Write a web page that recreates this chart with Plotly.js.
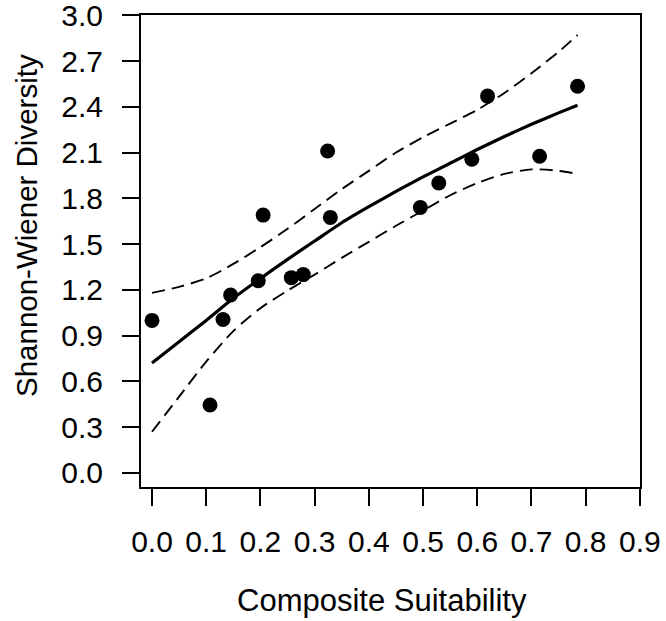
<!DOCTYPE html>
<html>
<head>
<meta charset="utf-8">
<script src="https://cdn.plot.ly/plotly-3.0.1.min.js"></script>
<style>html,body{margin:0;padding:0;background:#fff;}#chart{width:666px;height:621px;}</style>
</head>
<body>
<div id="chart"></div>
<script>
// Observed sites
const suitability = [0.00, 0.107, 0.131, 0.145, 0.196, 0.205, 0.257, 0.279, 0.324, 0.329, 0.495, 0.529, 0.590, 0.619, 0.715, 0.785];
const diversity   = [1.00, 0.445, 1.006, 1.166, 1.26, 1.69, 1.28, 1.30, 2.11, 1.675, 1.74, 1.90, 2.056, 2.47, 2.076, 2.535];

// Fitted curve and confidence band
const fitX     = [0, 0.05, 0.10, 0.15, 0.20, 0.25, 0.30, 0.35, 0.40, 0.45, 0.50, 0.55, 0.60, 0.65, 0.70, 0.75, 0.785];
const fitY     = [0.72, 0.86, 1.00, 1.145, 1.275, 1.40, 1.52, 1.64, 1.745, 1.845, 1.94, 2.03, 2.12, 2.205, 2.285, 2.36, 2.41];
const upperY   = [1.18, 1.22, 1.275, 1.37, 1.48, 1.60, 1.73, 1.86, 1.98, 2.10, 2.20, 2.29, 2.38, 2.49, 2.62, 2.76, 2.87];
const lowerY   = [0.27, 0.50, 0.73, 0.93, 1.08, 1.195, 1.30, 1.41, 1.515, 1.62, 1.72, 1.82, 1.90, 1.96, 1.99, 1.98, 1.96];

const xTicks = [0, 0.1, 0.2, 0.3, 0.4, 0.5, 0.6, 0.7, 0.8, 0.9];
const xTickText = ["0.0","0.1","0.2","0.3","0.4","0.5","0.6","0.7","0.8","0.9"];
const yTicks = [0, 0.3, 0.6, 0.9, 1.2, 1.5, 1.8, 2.1, 2.4, 2.7, 3.0];
const yTickText = ["0.0","0.3","0.6","0.9","1.2","1.5","1.8","2.1","2.4","2.7","3.0"];

const xTitle = "Composite Suitability";
const yTitle = "Shannon-Wiener Diversity";

const FONT = "Liberation Sans, Arial, Helvetica, sans-serif";

const traces = [
  {x: fitX, y: upperY, mode: 'lines', line: {color: '#000', width: 1.9, dash: '13px,7px', shape: 'spline', smoothing: 0.7}, hoverinfo: 'skip', showlegend: false},
  {x: fitX, y: lowerY, mode: 'lines', line: {color: '#000', width: 1.9, dash: '13px,7px', shape: 'spline', smoothing: 0.7}, hoverinfo: 'skip', showlegend: false},
  {x: fitX, y: fitY, mode: 'lines', line: {color: '#000', width: 3.2, shape: 'spline', smoothing: 0.7}, showlegend: false},
  {x: suitability, y: diversity, mode: 'markers', marker: {color: '#000', size: 15}, showlegend: false}
];

const axisCommon = {
  showgrid: false, zeroline: false, showline: true, linecolor: '#000', linewidth: 2, mirror: true,
  ticks: 'outside', ticklen: 17, tickwidth: 2, tickcolor: '#000',
  ticklabeloverflow: 'allow',
  tickfont: {family: FONT, size: 30, color: '#000'}
};

const layout = {
  width: 666, height: 621,
  margin: {l: 141, r: 26, t: 15, b: 134, pad: 0},
  paper_bgcolor: '#fff', plot_bgcolor: '#fff',
  xaxis: Object.assign({}, axisCommon, {range: [-0.0203, 0.9002], tickvals: xTicks, ticktext: xTickText, ticklabelstandoff: 10}),
  yaxis: Object.assign({}, axisCommon, {range: [-0.092, 3.0015], tickvals: yTicks, ticktext: yTickText, ticklabelstandoff: 13}),
  annotations: [
    {text: xTitle, xref: 'paper', yref: 'paper', x: 0.483, y: -0.2415, xanchor: 'center', yanchor: 'middle', showarrow: false, font: {family: FONT, size: 31, color: '#000'}},
    {text: yTitle, xref: 'paper', yref: 'paper', x: -0.2305, y: 0.555, xanchor: 'center', yanchor: 'middle', textangle: -90, showarrow: false, font: {family: FONT, size: 29.5, color: '#000'}}
  ],
  showlegend: false
};

Plotly.newPlot('chart', traces, layout, {displayModeBar: false, staticPlot: true});
</script>
</body>
</html>
